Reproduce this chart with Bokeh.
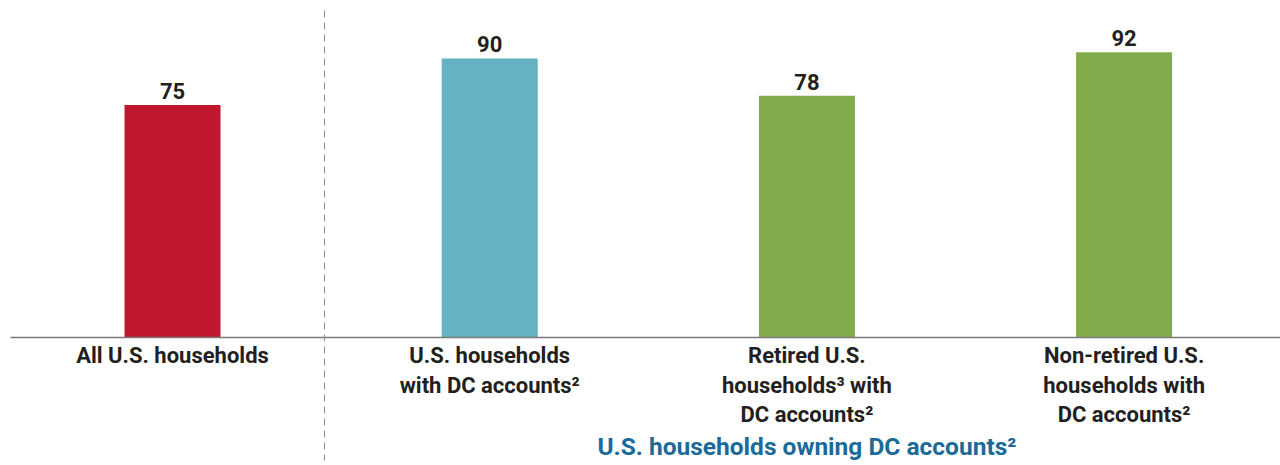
from bokeh.plotting import figure
from bokeh.models import Range1d, ColumnDataSource
from bokeh.core.properties import value
from bokeh.embed import file_html
from bokeh.resources import INLINE

# Data
categories = [
    "All U.S. households",
    "U.S. households\nwith DC accounts²",
    "Retired U.S.\nhouseholds³ with\nDC accounts²",
    "Non-retired U.S.\nhouseholds with\nDC accounts²",
]
values = [75, 90, 78, 92]
colors = ["#c0172f", "#64b2c4", "#82ab4b", "#82ab4b"]
value_labels = [str(v) for v in values]
group_label = "U.S. households owning DC accounts²"

xs = list(range(len(categories)))
FONT = "Roboto"

p = figure(width=1280, height=465, output_backend="svg", toolbar_location=None,
           x_range=Range1d(-0.5423, 3.493), y_range=Range1d(-41.29, 108.7),
           min_border=0, min_border_left=0, min_border_right=0,
           min_border_top=0, min_border_bottom=0)
p.axis.visible = False
p.grid.visible = False
p.outline_line_color = None
p.background_fill_color = "white"
p.border_fill_color = "white"

src = ColumnDataSource(dict(x=xs, top=values, color=colors, lab=value_labels, cat=categories))

p.vbar(x="x", top="top", bottom=0, width=0.3027, fill_color="color", line_color=None, source=src)

# baseline
p.segment(x0=[-0.511], y0=[0], x1=[3.493], y1=[0], line_color="#7a7a7a", line_width=1.5)
# dashed divider
p.segment(x0=[0.479], y0=[105.5], x1=[0.479], y1=[-39.7], line_color="#8a8a8a",
          line_width=1, line_dash="7 5")

# value labels
p.text(x="x", y="top", text="lab", source=src, text_align="center", text_baseline="bottom",
       y_offset=-6, text_font=value(FONT), text_font_style="bold", text_font_size="22px",
       text_color="#231f20")

# category labels
p.text(x="x", y=0, text="cat", source=src, text_align="center", text_baseline="top",
       y_offset=6, text_font=value(FONT), text_font_style="bold", text_font_size="22px",
       text_color="#231f20", text_line_height=1.17)

# group label
p.text(x=[2], y=[0], text=[group_label], text_align="center", text_baseline="middle",
       y_offset=109, text_font=value(FONT), text_font_style="bold", text_font_size="24.5px",
       text_color="#1b6a9a")

open("out.html", "w").write(file_html(p, INLINE))
